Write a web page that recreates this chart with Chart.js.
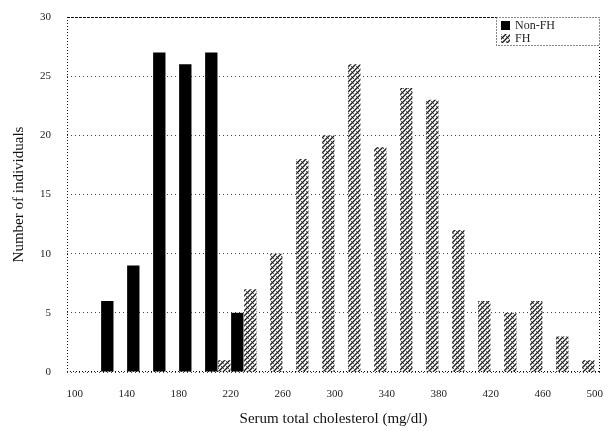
<!DOCTYPE html>
<html lang="en">
<head>
<meta charset="UTF-8">
<title>Serum total cholesterol</title>
<script src="https://cdn.jsdelivr.net/npm/chart.js"></script>
<style>
  html, body { margin: 0; padding: 0; background: #fff; }
</style>
</head>
<body>
<canvas id="cholChart" width="609" height="431"></canvas>
<script>
// bin centres (mg/dl) and counts per group
const binCenters = [130, 150, 170, 190, 210, 230, 250, 270, 290, 310, 330, 350, 370, 390, 410, 430, 450, 470, 490];
const nonFH = [6, 9, 27, 26, 27, 5, 0, 0, 0, 0, 0, 0, 0, 0, 0, 0, 0, 0, 0];
const fh = [0, 0, 0, 0, 1, 7, 10, 18, 20, 26, 19, 24, 23, 12, 6, 5, 6, 3, 1];
const xTicks = [100, 140, 180, 220, 260, 300, 340, 380, 420, 460, 500];
const yTicks = [0, 5, 10, 15, 20, 25, 30];
const seriesNames = ['Non-FH', 'FH'];

const serif = '"Liberation Serif", "DejaVu Serif", serif';

// hatched fill for the FH bars
function makeHatch() {
    const c = document.createElement('canvas');
    c.width = 5;
    c.height = 5;
    const g = c.getContext('2d');
    g.fillStyle = '#ffffff';
    g.fillRect(0, 0, 5, 5);
    g.strokeStyle = '#1a1a1a';
    g.lineWidth = 1.4;
    g.beginPath();
    g.moveTo(-1, 1); g.lineTo(1, -1);
    g.moveTo(0, 5); g.lineTo(5, 0);
    g.moveTo(4, 6); g.lineTo(6, 4);
    g.stroke();
    g.fillStyle = '#555';
    g.fillRect(1, 1, 1, 1);
    g.fillRect(3, 3, 1, 1);
    return g.createPattern(c, 'repeat');
}
const hatch = makeHatch();

// dotted frame round the plot + legend box in the top right corner
const framePlugin = {
    id: 'frame',
    afterDraw(chart) {
        const ctx = chart.ctx;
        const a = chart.chartArea;
        ctx.save();
        ctx.strokeStyle = '#111';
        ctx.lineWidth = 1;

        ctx.setLineDash([3, 1]);
        ctx.beginPath();
        ctx.moveTo(a.left, a.top + 0.5);
        ctx.lineTo(a.right, a.top + 0.5);
        ctx.stroke();

        ctx.setLineDash([1, 2]);
        ctx.beginPath();
        ctx.moveTo(a.left + 0.5, a.top);
        ctx.lineTo(a.left + 0.5, a.bottom);
        ctx.moveTo(a.right - 0.5, a.top);
        ctx.lineTo(a.right - 0.5, a.bottom);
        ctx.moveTo(a.left, a.bottom - 0.5);
        ctx.lineTo(a.right, a.bottom - 0.5);
        ctx.stroke();

        // legend
        const w = 104, h = 29;
        const lx = a.right - w, ly = a.top;
        ctx.setLineDash([]);
        ctx.fillStyle = '#fff';
        ctx.fillRect(lx, ly, w, h);
        ctx.setLineDash([1, 2]);
        ctx.strokeRect(lx + 0.5, ly + 0.5, w - 1, h - 1);
        ctx.setLineDash([]);
        ctx.font = '12px ' + serif;
        ctx.textBaseline = 'middle';
        const fills = ['#000', hatch];
        seriesNames.forEach((name, i) => {
            const y = ly + 4 + i * 13;
            ctx.fillStyle = fills[i];
            ctx.fillRect(lx + 5, y, 9, 9);
            ctx.fillStyle = '#222';
            ctx.fillText(name, lx + 19, y + 5);
        });
        ctx.restore();
    }
};

new Chart(document.getElementById('cholChart'), {
    type: 'bar',
    data: {
        datasets: [
            {
                label: seriesNames[0],
                data: binCenters.map((x, i) => ({ x: x, y: nonFH[i] })),
                backgroundColor: '#000',
                borderWidth: 0
            },
            {
                label: seriesNames[1],
                data: binCenters.map((x, i) => ({ x: x, y: fh[i] })),
                backgroundColor: hatch,
                borderWidth: 0
            }
        ]
    },
    options: {
        responsive: false,
        animation: false,
        devicePixelRatio: 1,
        categoryPercentage: 1,
        barPercentage: 0.95,
        layout: { padding: { top: 17, right: 9, left: 0, bottom: 0 } },
        plugins: {
            legend: { display: false },
            tooltip: { enabled: false }
        },
        scales: {
            x: {
                type: 'linear',
                offset: false,
                min: 94,
                max: 504,
                grid: { display: false },
                border: { display: false },
                afterBuildTicks: s => { s.ticks = xTicks.map(v => ({ value: v })); },
                afterFit: s => {
                    s.height = 59;
                    s.paddingLeft = 0;
                    s.paddingRight = 0;
                },
                ticks: {
                    font: { family: serif, size: 11 },
                    color: '#222',
                    padding: 8,
                    maxRotation: 0,
                    autoSkip: false
                },
                title: {
                    display: true,
                    text: 'Serum total cholesterol (mg/dl)',
                    font: { family: serif, size: 15 },
                    color: '#111',
                    padding: { top: 4, bottom: 3 }
                }
            },
            y: {
                min: 0,
                max: 30,
                grid: { color: '#444', drawTicks: false },
                border: { display: false, dash: [1, 3] },
                afterBuildTicks: s => { s.ticks = yTicks.map(v => ({ value: v })); },
                afterFit: s => {
                    s.width = 67;
                    s.paddingTop = 0;
                    s.paddingBottom = 0;
                },
                ticks: {
                    font: { family: serif, size: 11 },
                    color: '#222',
                    padding: 16
                },
                title: {
                    display: true,
                    text: 'Number of individuals',
                    font: { family: serif, size: 15 },
                    color: '#111',
                    padding: { top: 10, bottom: 4 }
                }
            }
        }
    },
    plugins: [framePlugin]
});
</script>
</body>
</html>
